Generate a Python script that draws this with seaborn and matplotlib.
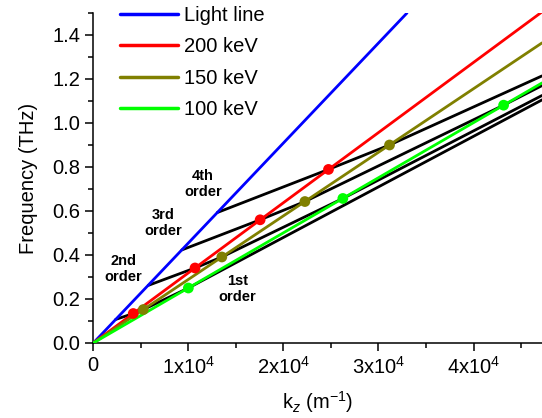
import matplotlib
matplotlib.use("Agg")
import matplotlib.pyplot as plt
import seaborn as sns
import numpy as np
import pandas as pd
from matplotlib.ticker import MultipleLocator, FixedLocator

# ---------------- data ----------------
k_light = [0.0, 3.30e4]
f_light = [0.0, 1.50]

k_beam = [0.0, 4.72e4]
f_200 = [0.0, 1.505]
f_150 = [0.0, 1.364]
f_100 = [0.0, 1.182]

# black dispersion curves (orders 1..4)
k_m1 = [0.235e4, 0.42e4, 0.526e4, 1.0e4, 4.72e4]
f_m1 = [0.107, 0.134, 0.152, 0.250, 1.105]
k_m2 = [0.579e4, 1.07e4, 1.352e4, 2.625e4, 4.72e4]
f_m2 = [0.262, 0.341, 0.391, 0.657, 1.125]
k_m3 = [0.931e4, 1.755e4, 2.226e4, 4.316e4, 4.72e4]
f_m3 = [0.423, 0.560, 0.643, 1.081, 1.170]
k_m4 = [1.304e4, 2.474e4, 3.116e4, 4.72e4]
f_m4 = [0.593, 0.789, 0.900, 1.214]

# synchronism points
k_dot_200 = [0.42e4, 1.07e4, 1.755e4, 2.474e4]
f_dot_200 = [0.134, 0.341, 0.560, 0.789]
k_dot_150 = [0.526e4, 1.352e4, 2.226e4, 3.116e4]
f_dot_150 = [0.152, 0.391, 0.643, 0.900]
k_dot_100 = [1.0e4, 2.625e4, 4.316e4]
f_dot_100 = [0.250, 0.657, 1.081]

series_labels = ["Light line", "200 keV", "150 keV", "100 keV"]
xtick_vals = [0, 1e4, 2e4, 3e4, 4e4]
xtick_labels = ["0", "1x10$^{4}$", "2x10$^{4}$", "3x10$^{4}$", "4x10$^{4}$"]
ytick_vals = [0.0, 0.2, 0.4, 0.6, 0.8, 1.0, 1.2, 1.4]
order_labels = ["1st\norder", "2nd\norder", "3rd\norder", "4th\norder"]

# ---------------- style ----------------
sns.set_theme(style="ticks")
plt.rcParams["font.family"] = ["Liberation Sans", "DejaVu Sans"]
plt.rcParams["mathtext.fontset"] = "custom"
plt.rcParams["mathtext.rm"] = "Liberation Sans"
plt.rcParams["mathtext.it"] = "Liberation Sans:italic"
plt.rcParams["mathtext.bf"] = "Liberation Sans:bold"
plt.rcParams["text.color"] = "black"
plt.rcParams["axes.labelcolor"] = "black"
plt.rcParams["legend.labelcolor"] = "black"

fig = plt.figure(figsize=(5.42, 4.18), dpi=100)
ax = fig.add_axes([93.3 / 542, 75 / 418, (542 - 93.3) / 542, (343 - 13) / 418])

lw = 2.0
for kk, ff in [(k_m1, f_m1), (k_m2, f_m2), (k_m3, f_m3), (k_m4, f_m4)]:
    sns.lineplot(x=kk, y=ff, ax=ax, color="black", lw=lw, estimator=None,
                 sort=False, legend=False, zorder=2)

sns.lineplot(x=k_light, y=f_light, ax=ax, color="#0000FF", lw=lw,
             label=series_labels[0], estimator=None, zorder=3)
sns.lineplot(x=k_beam, y=f_200, ax=ax, color="#FF0000", lw=lw,
             label=series_labels[1], estimator=None, zorder=3)
sns.lineplot(x=k_beam, y=f_150, ax=ax, color="#808000", lw=lw,
             label=series_labels[2], estimator=None, zorder=3)
sns.lineplot(x=k_beam, y=f_100, ax=ax, color="#00FF00", lw=lw,
             label=series_labels[3], estimator=None, zorder=3)

for kk, ff, c in [(k_dot_200, f_dot_200, "#FF0000"),
                  (k_dot_150, f_dot_150, "#808000"),
                  (k_dot_100, f_dot_100, "#00FF00")]:
    sns.scatterplot(x=kk, y=ff, ax=ax, color=c, s=60, edgecolor="none",
                    legend=False, zorder=4)

# order labels
ann_kw = dict(fontsize=10.5, fontweight="bold", ha="center", va="center",
              multialignment="center", linespacing=1.15, color="black")
ax.text(1.513e4, 0.245, order_labels[0], **ann_kw)
ax.text(0.314e4, 0.336, order_labels[1], **ann_kw)
ax.text(0.734e4, 0.545, order_labels[2], **ann_kw)
ax.text(1.155e4, 0.723, order_labels[3], **ann_kw)

ax.set_xlim(0, 4.72e4)
ax.set_ylim(0, 1.5)
ax.xaxis.set_major_locator(FixedLocator(xtick_vals))
ax.set_xticklabels(xtick_labels)
ax.xaxis.set_minor_locator(MultipleLocator(0.5e4))
ax.yaxis.set_major_locator(FixedLocator(ytick_vals))
ax.set_yticklabels([f"{v:.1f}" for v in ytick_vals])
ax.yaxis.set_minor_locator(MultipleLocator(0.1))

ax.tick_params(which="major", direction="out", length=6, width=1.1,
               labelsize=14.5, color="black", labelcolor="black")
ax.tick_params(which="minor", direction="out", length=3.5, width=1.1,
               color="black")
for s in ["top", "right"]:
    ax.spines[s].set_visible(False)
for s in ["left", "bottom"]:
    ax.spines[s].set_linewidth(1.1)
    ax.spines[s].set_color("black")

ax.set_xlabel("k$_{z}$ (m$^{-1}$)", fontsize=14.5, labelpad=8)
ax.set_ylabel("Frequency (THz)", fontsize=14.5, labelpad=10)

leg = ax.legend(loc="upper left", bbox_to_anchor=(0.0595, 1.022), frameon=False,
                fontsize=14.5, handlelength=2.9, handletextpad=0.3,
                labelspacing=0.62, borderpad=0, borderaxespad=0)
for h in leg.get_lines():
    h.set_linewidth(2.5)

fig.savefig("out.png", dpi=100)
